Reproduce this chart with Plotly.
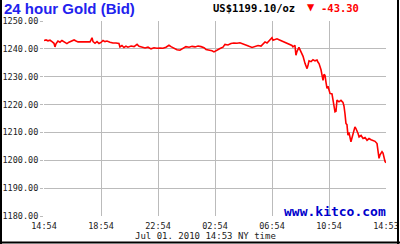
import plotly.graph_objects as go

# hours since 14:54 (Jun 30, 2010) and bid price
hours = [0.0, 0.14, 0.28, 0.42, 0.56, 0.70, 0.77, 0.84, 0.98, 1.12, 1.26, 1.40, 1.54, 1.61, 1.75, 1.96,
         2.11, 2.25, 2.39, 2.67, 2.95, 3.23, 3.30, 3.37, 3.44, 3.58, 3.72, 3.86, 4.00, 4.14, 4.28, 4.42,
         4.63, 4.84, 5.05, 5.26, 5.33, 5.47, 5.61, 5.75, 5.89, 6.11, 6.32, 6.53, 6.67, 6.88, 7.09, 7.30,
         7.51, 7.72, 7.93, 8.14, 8.35, 8.56, 8.77, 8.91, 9.12, 9.33, 9.54, 9.75, 9.96, 10.18, 10.39, 10.60,
         10.81, 11.02, 11.23, 11.37, 11.58, 11.79, 11.93, 12.14, 12.35, 12.56, 12.70, 12.91, 13.12, 13.33,
         13.54, 13.75, 13.96, 14.18, 14.39, 14.60, 14.81, 15.02, 15.23, 15.37, 15.51, 15.65, 15.79, 15.93,
         16.00, 16.07, 16.21, 16.35, 16.49, 16.63, 16.77, 16.98, 17.12, 17.26, 17.40, 17.47, 17.61, 17.68,
         17.75, 17.89, 17.96, 18.11, 18.18, 18.32, 18.46, 18.53, 18.60, 18.74, 18.88, 19.02, 19.16, 19.23,
         19.30, 19.44, 19.51, 19.58, 19.65, 19.72, 19.79, 19.86, 19.93, 20.00, 20.07, 20.21, 20.28, 20.35,
         20.42, 20.49, 20.56, 20.70, 20.84, 20.98, 21.05, 21.12, 21.19, 21.26, 21.33, 21.40, 21.47, 21.54,
         21.61, 21.68, 21.82, 21.89, 21.96, 22.04, 22.11, 22.25, 22.39, 22.53, 22.67, 22.81, 22.95, 23.09,
         23.23, 23.37, 23.44, 23.51, 23.58, 23.72, 23.79, 23.86, 23.93, 24.00]
prices = [1243.0, 1243.2, 1242.9, 1243.1, 1242.6, 1242.0, 1240.7, 1241.8, 1242.8, 1242.4, 1243.0, 1242.6,
          1242.3, 1241.9, 1242.4, 1242.9, 1243.2, 1242.8, 1242.5, 1242.5, 1242.5, 1242.5, 1243.2, 1244.0,
          1242.6, 1242.0, 1242.6, 1241.9, 1242.3, 1243.0, 1242.6, 1242.8, 1242.4, 1242.1, 1242.1, 1241.9,
          1240.7, 1241.2, 1240.5, 1241.0, 1240.6, 1241.0, 1240.8, 1241.6, 1240.9, 1240.7, 1240.3, 1240.6,
          1240.0, 1240.4, 1240.2, 1240.3, 1240.2, 1240.6, 1241.3, 1240.8, 1240.1, 1239.7, 1239.5, 1240.2,
          1240.8, 1240.6, 1240.9, 1240.7, 1241.0, 1240.8, 1240.4, 1239.8, 1239.6, 1239.3, 1238.9, 1239.6,
          1240.1, 1240.6, 1241.6, 1241.4, 1241.9, 1242.1, 1242.0, 1242.2, 1241.7, 1241.3, 1240.9, 1240.5,
          1240.9, 1241.2, 1241.0, 1241.8, 1242.5, 1242.1, 1242.9, 1243.4, 1244.0, 1243.1, 1243.3, 1243.6,
          1243.3, 1243.0, 1242.5, 1242.3, 1241.8, 1241.6, 1241.2, 1240.7, 1241.3, 1237.7, 1239.0, 1240.5,
          1239.6, 1238.3, 1237.3, 1234.7, 1232.9, 1234.2, 1235.7, 1235.4, 1236.1, 1235.7, 1236.0, 1235.2,
          1234.7, 1232.5, 1231.1, 1228.7, 1230.8, 1230.5, 1228.0, 1225.8, 1226.6, 1225.2, 1224.0, 1223.8,
          1221.6, 1218.5, 1217.4, 1217.6, 1221.6, 1221.0, 1221.5, 1220.8, 1219.5, 1216.8, 1213.2, 1212.8,
          1209.0, 1210.0, 1208.2, 1206.6, 1208.0, 1209.6, 1212.0, 1211.4, 1210.8, 1209.6, 1208.4, 1208.9,
          1207.8, 1208.2, 1207.2, 1207.8, 1207.4, 1207.2, 1206.8, 1206.0, 1203.5, 1200.7, 1202.0, 1203.1,
          1202.6, 1200.4, 1199.6, 1199.1]

x_tickvals = [0, 4, 8, 12, 16, 20, 24]
x_gridvals = [4, 8, 12, 16, 20, 24]
x_ticktext = ["14:54", "18:54", "22:54", "02:54", "06:54", "10:54", "14:53"]
y_tickvals = [1180, 1190, 1200, 1210, 1220, 1230, 1240, 1250]

title_text = "24 hour Gold (Bid)"
price_text = "US$1199.10/oz"
change_text = "-43.30"
site_text = "www.kitco.com"
date_text = "Jul 01. 2010 14:53 NY time"

mono = "DejaVu Sans Mono"
grid = "#bbbbbb"
PW, PH = 342, 195

fig = go.Figure()
fig.add_trace(go.Scatter(x=hours, y=prices, mode="lines",
                         line=dict(color="#ff0000", width=1.6), hoverinfo="skip"))

fig.update_layout(
    width=400, height=244,
    margin=dict(l=44, r=14, t=21, b=28, autoexpand=False),
    paper_bgcolor="white", plot_bgcolor="white",
    showlegend=False,
    xaxis=dict(range=[0, 24], tickvals=x_tickvals, ticktext=x_ticktext, automargin=False,
               showgrid=False, zeroline=False, showline=False,
               ticks="outside", ticklen=2, tickcolor="rgba(0,0,0,0)",
               minor=dict(tickvals=x_gridvals, showgrid=True, gridcolor=grid, gridwidth=1, ticks=""),
               tickfont=dict(family=mono, size=8.5, color="#222222")),
    yaxis=dict(range=[1180, 1250], tickvals=y_tickvals, tickformat=".2f", automargin=False,
               showgrid=True, gridcolor=grid, gridwidth=1, zeroline=False,
               showline=False, ticks="outside", ticklen=3, tickcolor=grid,
               tickfont=dict(family=mono, size=8.5, color="#222222")),
)

fig.add_annotation(text="<b>" + title_text + "</b>", xref="paper", yref="paper",
                   x=-44/PW, y=1 + 12.5/PH, xanchor="left", yanchor="middle",
                   showarrow=False, xshift=2,
                   font=dict(family="Liberation Sans", size=15, color="#2222ee"))
fig.add_annotation(text="<b>" + price_text + "</b>", xref="paper", yref="paper",
                   x=(211 - 44)/PW, y=1 + 13/PH, xanchor="left", yanchor="middle",
                   showarrow=False, font=dict(family=mono, size=10.5, color="#000000"))
fig.add_annotation(text="▼", xref="paper", yref="paper",
                   x=(311 - 44)/PW, y=1 + 14/PH, xanchor="center", yanchor="middle",
                   showarrow=False, font=dict(family=mono, size=12, color="#ff0000"))
fig.add_annotation(text="<b>" + change_text + "</b>", xref="paper", yref="paper",
                   x=(319 - 44)/PW, y=1 + 13/PH, xanchor="left", yanchor="middle",
                   showarrow=False, font=dict(family=mono, size=10.5, color="#ff0000"))
fig.add_annotation(text="<b>" + site_text + "</b>", xref="paper", yref="paper",
                   x=1, y=5/PH, xanchor="right", yanchor="middle", xshift=2,
                   showarrow=False, font=dict(family=mono, size=13, color="#0000cc"))
fig.add_annotation(text=date_text, xref="paper", yref="paper",
                   x=(205 - 44)/PW, y=-(236 - 216)/PH, xanchor="center", yanchor="middle",
                   showarrow=False, font=dict(family=mono, size=9, color="#222222"))

# outer frame (left, right, bottom)
for x0, y0, x1, y1 in [(-43/PW, -28/PH, -43/PW, 1 + 21/PH),
                       (354/PW, -28/PH, 354/PW, 1 + 21/PH),
                       (-44/PW, -26.5/PH, 356/PW, -26.5/PH)]:
    fig.add_shape(type="line", xref="paper", yref="paper", x0=x0, y0=y0, x1=x1, y1=y1,
                  line=dict(color="#000000", width=2))

fig.write_html("out.html")
